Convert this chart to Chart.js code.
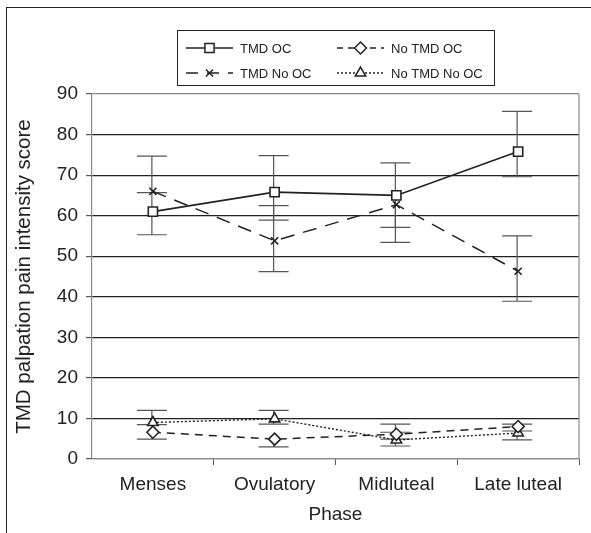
<!DOCTYPE html>
<html>
<head>
<meta charset="utf-8">
<script src="https://cdn.jsdelivr.net/npm/chart.js@4.4.1/dist/chart.umd.min.js"></script>
<style>
    html, body { margin: 0; padding: 0; background: #fff; }
    #wrap { position: relative; width: 591px; height: 533px; }
    #frame { position: absolute; left: 6px; top: 7px; right: -10px; bottom: -10px; border-left: 1.5px solid #222; border-top: 1.5px solid #222; pointer-events: none; }
    canvas { position: absolute; left: 0; top: 0; }
</style>
</head>
<body>
<div id="wrap">
    <canvas id="chart" width="591" height="533"></canvas>
    <div id="frame"></div>
</div>
<script>
const phases = ['Menses', 'Ovulatory', 'Midluteal', 'Late luteal'];
const yTicks = [0, 10, 20, 30, 40, 50, 60, 70, 80, 90];

const tmdOC = [61.0, 65.8, 65.0, 75.8];
const tmdOCLow = [55.3, 58.9, 57.1, 69.6];
const tmdOCHigh = [65.7, 74.8, 73.0, 85.7];

const tmdNoOC = [66.0, 53.8, 62.7, 46.3];
const tmdNoOCLow = [null, 46.2, 53.4, 38.9];
const tmdNoOCHigh = [74.7, 62.5, null, 55.0];

const noTmdOC = [6.6, 4.9, 6.1, 8.0];
const noTmdOCLow = [4.9, 3.0, 4.9, 6.9];
const noTmdOCHigh = [8.5, null, 8.6, 8.6];

const noTmdNoOC = [9.0, 9.9, 4.7, 6.4];
const noTmdNoOCLow = [null, 8.6, 3.2, 4.7];
const noTmdNoOCHigh = [12.0, 12.0, 6.6, null];

const INK = '#222';
const AXIS = '#888';
const FONT = "'Liberation Sans', Arial, sans-serif";

const seriesConfig = [
    { label: 'TMD OC', data: tmdOC, low: tmdOCLow, high: tmdOCHigh, dash: [], point: 'rect', radius: 6.5, width: 1.6 },
    { label: 'TMD No OC', data: tmdNoOC, low: tmdNoOCLow, high: tmdNoOCHigh, dash: [14, 9], point: 'crossRot', radius: 5, width: 1.5 },
    { label: 'No TMD OC', data: noTmdOC, low: noTmdOCLow, high: noTmdOCHigh, dash: [8, 6], point: 'rectRot', radius: 6, width: 1.5 },
    { label: 'No TMD No OC', data: noTmdNoOC, low: noTmdNoOCLow, high: noTmdNoOCHigh, dash: [2, 2], point: 'triangle', radius: 6, width: 1.4 }
];

// error bars + right border, drawn through the scales
const errorBars = {
    id: 'errorBars',
    beforeDatasetsDraw(chart) {
        const { ctx, chartArea, scales: { x, y } } = chart;
        ctx.save();
        ctx.strokeStyle = '#555';
        ctx.lineWidth = 1.2;
        seriesConfig.forEach(s => {
            s.data.forEach((v, i) => {
                const px = x.getPixelForValue(i) - 1;
                const cap = 15;
                [s.low[i], s.high[i]].forEach(end => {
                    if (end === null) return;
                    const py = y.getPixelForValue(end);
                    const pv = y.getPixelForValue(v);
                    ctx.beginPath();
                    ctx.moveTo(px, pv);
                    ctx.lineTo(px, py);
                    ctx.moveTo(px - cap, py);
                    ctx.lineTo(px + cap, py);
                    ctx.stroke();
                });
            });
        });
        ctx.strokeStyle = AXIS;
        ctx.lineWidth = 1.2;
        ctx.beginPath();
        ctx.moveTo(chartArea.right, chartArea.top);
        ctx.lineTo(chartArea.right, chartArea.bottom);
        ctx.stroke();
        ctx.restore();
    }
};

// boxed two-column legend above the plot
const boxLegend = {
    id: 'boxLegend',
    afterDraw(chart) {
        const { ctx } = chart;
        const box = { x: 177, y: 30, w: 317, h: 55 };
        ctx.save();
        ctx.strokeStyle = INK;
        ctx.lineWidth = 1;
        ctx.strokeRect(box.x + 0.5, box.y + 0.5, box.w, box.h);
        const slots = [
            { x: 186, y: 48 }, { x: 186, y: 73 },
            { x: 337, y: 48 }, { x: 337, y: 73 }
        ];
        const legendDash = [[], [12, 9], [6, 5], [2, 2]];
        seriesConfig.forEach((s, k) => {
            const slot = slots[k];
            ctx.strokeStyle = INK;
            ctx.lineWidth = s.width;
            ctx.setLineDash(legendDash[k]);
            ctx.beginPath();
            ctx.moveTo(slot.x, slot.y);
            ctx.lineTo(slot.x + 47, slot.y);
            ctx.stroke();
            ctx.setLineDash([]);
            ctx.fillStyle = '#fff';
            ctx.lineWidth = 1.5;
            Chart.helpers.drawPoint(ctx, { pointStyle: s.point, radius: s.radius, borderWidth: 1.5, rotation: 0 }, slot.x + 23.5, slot.y);
            ctx.fillStyle = INK;
            ctx.font = `13px ${FONT}`;
            ctx.textBaseline = 'middle';
            ctx.fillText(s.label, slot.x + 54, slot.y + 1);
        });
        ctx.restore();
    }
};

const datasets = seriesConfig.map(s => ({
    label: s.label,
    data: s.data,
    borderColor: INK,
    borderWidth: s.width,
    borderDash: s.dash,
    fill: false,
    tension: 0,
    pointStyle: s.point,
    pointRadius: s.radius,
    pointBorderWidth: 1.6,
    pointBorderColor: INK,
    pointBackgroundColor: s.point === 'crossRot' ? INK : '#fff'
}));

new Chart(document.getElementById('chart'), {
    type: 'line',
    data: { labels: phases, datasets },
    options: {
        responsive: false,
        animation: false,
        layout: { padding: { left: 0, top: 94, right: 12, bottom: 0 } },
        plugins: { legend: { display: false }, tooltip: { enabled: false } },
        scales: {
            x: {
                offset: true,
                afterFit: scale => { scale.height = 74; },
                grid: {
                    offset: true,
                    drawOnChartArea: false,
                    drawTicks: true,
                    tickLength: 6,
                    tickColor: c => (c.index === 0 || c.index === phases.length) ? 'rgba(0,0,0,0)' : '#555'
                },
                border: { color: AXIS, width: 1.2 },
                ticks: { color: INK, font: { family: FONT, size: 19 }, padding: 8 },
                title: { display: true, text: 'Phase', color: INK, font: { family: FONT, size: 19 }, padding: { top: 0, bottom: 7 } }
            },
            y: {
                min: 0,
                max: 90,
                afterFit: scale => { scale.width = 92; },
                afterBuildTicks: scale => { scale.ticks = yTicks.map(v => ({ value: v })); },
                grid: {
                    color: c => (c.tick && (c.tick.value === 90 || c.tick.value === 0)) ? AXIS : INK,
                    lineWidth: 1.2,
                    tickColor: '#555',
                    tickLength: 6
                },
                border: { color: AXIS, width: 1.2 },
                ticks: { color: INK, font: { family: FONT, size: 19 }, padding: 8 },
                title: { display: true, text: 'TMD palpation pain intensity score', color: INK, font: { family: FONT, size: 20.5 }, padding: { top: 12, bottom: 0 } }
            }
        }
    },
    plugins: [errorBars, boxLegend]
});
</script>
</body>
</html>
